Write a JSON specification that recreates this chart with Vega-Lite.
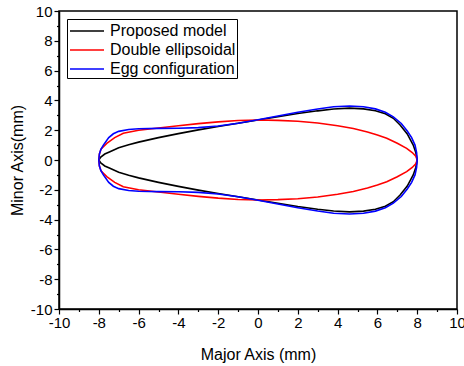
{
 "$schema": "https://vega.github.io/schema/vega-lite/v6.json",
 "width": 398, "height": 298,
 "autosize": {"type": "none"},
 "padding": {"left": 59, "top": 11, "right": 7, "bottom": 57},
 "background": "white",
 "config": {
   "view": {"stroke": "black", "strokeWidth": 1.5},
   "font": "Liberation Sans",
   "axis": {"domainColor": "black", "domainWidth": 1.5, "tickColor": "black", "tickWidth": 1.2, "labelColor": "black", "labelFontSize": 15, "titleColor": "black", "titleFontSize": 16, "titleFontWeight": "normal", "grid": false, "labelFlush": false, "labelOverlap": false}
 },
 "data": {"values": [
  {"s":"Proposed model","h":"u","x":-8,"y":0},{"s":"Proposed model","h":"u","x":-7.9,"y":0.2},{"s":"Proposed model","h":"u","x":-7.7,"y":0.4},{"s":"Proposed model","h":"u","x":-7.44,"y":0.56},{"s":"Proposed model","h":"u","x":-7,"y":0.82},{"s":"Proposed model","h":"u","x":-6.5,"y":1.02},{"s":"Proposed model","h":"u","x":-6,"y":1.2},{"s":"Proposed model","h":"u","x":-5,"y":1.5},{"s":"Proposed model","h":"u","x":-4,"y":1.77},{"s":"Proposed model","h":"u","x":-3,"y":2.02},{"s":"Proposed model","h":"u","x":-2,"y":2.25},{"s":"Proposed model","h":"u","x":-1,"y":2.47},{"s":"Proposed model","h":"u","x":0,"y":2.68},{"s":"Proposed model","h":"u","x":1,"y":2.9},{"s":"Proposed model","h":"u","x":2,"y":3.12},{"s":"Proposed model","h":"u","x":3,"y":3.3},{"s":"Proposed model","h":"u","x":3.8,"y":3.42},{"s":"Proposed model","h":"u","x":4.6,"y":3.48},{"s":"Proposed model","h":"u","x":5.3,"y":3.43},{"s":"Proposed model","h":"u","x":5.9,"y":3.3},{"s":"Proposed model","h":"u","x":6.4,"y":3.1},{"s":"Proposed model","h":"u","x":6.8,"y":2.8},{"s":"Proposed model","h":"u","x":7.14,"y":2.35},{"s":"Proposed model","h":"u","x":7.5,"y":1.75},{"s":"Proposed model","h":"u","x":7.8,"y":1.0},{"s":"Proposed model","h":"u","x":7.93,"y":0.5},{"s":"Proposed model","h":"u","x":8,"y":0},
  {"s":"Proposed model","h":"l","x":-8,"y":0},{"s":"Proposed model","h":"l","x":-7.9,"y":-0.2},{"s":"Proposed model","h":"l","x":-7.7,"y":-0.4},{"s":"Proposed model","h":"l","x":-7.44,"y":-0.56},{"s":"Proposed model","h":"l","x":-7,"y":-0.82},{"s":"Proposed model","h":"l","x":-6.5,"y":-1.02},{"s":"Proposed model","h":"l","x":-6,"y":-1.2},{"s":"Proposed model","h":"l","x":-5,"y":-1.5},{"s":"Proposed model","h":"l","x":-4,"y":-1.77},{"s":"Proposed model","h":"l","x":-3,"y":-2.02},{"s":"Proposed model","h":"l","x":-2,"y":-2.25},{"s":"Proposed model","h":"l","x":-1,"y":-2.47},{"s":"Proposed model","h":"l","x":0,"y":-2.68},{"s":"Proposed model","h":"l","x":1,"y":-2.9},{"s":"Proposed model","h":"l","x":2,"y":-3.12},{"s":"Proposed model","h":"l","x":3,"y":-3.3},{"s":"Proposed model","h":"l","x":3.8,"y":-3.42},{"s":"Proposed model","h":"l","x":4.6,"y":-3.48},{"s":"Proposed model","h":"l","x":5.3,"y":-3.43},{"s":"Proposed model","h":"l","x":5.9,"y":-3.3},{"s":"Proposed model","h":"l","x":6.4,"y":-3.1},{"s":"Proposed model","h":"l","x":6.8,"y":-2.8},{"s":"Proposed model","h":"l","x":7.14,"y":-2.35},{"s":"Proposed model","h":"l","x":7.5,"y":-1.75},{"s":"Proposed model","h":"l","x":7.8,"y":-1.0},{"s":"Proposed model","h":"l","x":7.93,"y":-0.5},{"s":"Proposed model","h":"l","x":8,"y":0},
  {"s":"Double ellipsoidal","h":"u","x":-8,"y":0},{"s":"Double ellipsoidal","h":"u","x":-7.97,"y":0.4},{"s":"Double ellipsoidal","h":"u","x":-7.88,"y":0.75},{"s":"Double ellipsoidal","h":"u","x":-7.6,"y":1.12},{"s":"Double ellipsoidal","h":"u","x":-7.2,"y":1.5},{"s":"Double ellipsoidal","h":"u","x":-6.77,"y":1.8},{"s":"Double ellipsoidal","h":"u","x":-6,"y":2.0},{"s":"Double ellipsoidal","h":"u","x":-5,"y":2.15},{"s":"Double ellipsoidal","h":"u","x":-4,"y":2.3},{"s":"Double ellipsoidal","h":"u","x":-3,"y":2.44},{"s":"Double ellipsoidal","h":"u","x":-2,"y":2.56},{"s":"Double ellipsoidal","h":"u","x":-1,"y":2.65},{"s":"Double ellipsoidal","h":"u","x":0,"y":2.68},{"s":"Double ellipsoidal","h":"u","x":1,"y":2.66},{"s":"Double ellipsoidal","h":"u","x":2,"y":2.6},{"s":"Double ellipsoidal","h":"u","x":3,"y":2.48},{"s":"Double ellipsoidal","h":"u","x":4,"y":2.3},{"s":"Double ellipsoidal","h":"u","x":4.79,"y":2.12},{"s":"Double ellipsoidal","h":"u","x":5.5,"y":1.88},{"s":"Double ellipsoidal","h":"u","x":6,"y":1.68},{"s":"Double ellipsoidal","h":"u","x":6.47,"y":1.46},{"s":"Double ellipsoidal","h":"u","x":7,"y":1.12},{"s":"Double ellipsoidal","h":"u","x":7.47,"y":0.78},{"s":"Double ellipsoidal","h":"u","x":7.75,"y":0.5},{"s":"Double ellipsoidal","h":"u","x":7.93,"y":0.25},{"s":"Double ellipsoidal","h":"u","x":8,"y":0},
  {"s":"Double ellipsoidal","h":"l","x":-8,"y":0},{"s":"Double ellipsoidal","h":"l","x":-7.97,"y":-0.4},{"s":"Double ellipsoidal","h":"l","x":-7.88,"y":-0.75},{"s":"Double ellipsoidal","h":"l","x":-7.6,"y":-1.12},{"s":"Double ellipsoidal","h":"l","x":-7.2,"y":-1.5},{"s":"Double ellipsoidal","h":"l","x":-6.77,"y":-1.8},{"s":"Double ellipsoidal","h":"l","x":-6,"y":-2.0},{"s":"Double ellipsoidal","h":"l","x":-5,"y":-2.15},{"s":"Double ellipsoidal","h":"l","x":-4,"y":-2.3},{"s":"Double ellipsoidal","h":"l","x":-3,"y":-2.44},{"s":"Double ellipsoidal","h":"l","x":-2,"y":-2.56},{"s":"Double ellipsoidal","h":"l","x":-1,"y":-2.65},{"s":"Double ellipsoidal","h":"l","x":0,"y":-2.68},{"s":"Double ellipsoidal","h":"l","x":1,"y":-2.66},{"s":"Double ellipsoidal","h":"l","x":2,"y":-2.6},{"s":"Double ellipsoidal","h":"l","x":3,"y":-2.48},{"s":"Double ellipsoidal","h":"l","x":4,"y":-2.3},{"s":"Double ellipsoidal","h":"l","x":4.79,"y":-2.12},{"s":"Double ellipsoidal","h":"l","x":5.5,"y":-1.88},{"s":"Double ellipsoidal","h":"l","x":6,"y":-1.68},{"s":"Double ellipsoidal","h":"l","x":6.47,"y":-1.46},{"s":"Double ellipsoidal","h":"l","x":7,"y":-1.12},{"s":"Double ellipsoidal","h":"l","x":7.47,"y":-0.78},{"s":"Double ellipsoidal","h":"l","x":7.75,"y":-0.5},{"s":"Double ellipsoidal","h":"l","x":7.93,"y":-0.25},{"s":"Double ellipsoidal","h":"l","x":8,"y":0},
  {"s":"Egg configuration","h":"u","x":-8,"y":0},{"s":"Egg configuration","h":"u","x":-7.97,"y":0.4},{"s":"Egg configuration","h":"u","x":-7.9,"y":0.7},{"s":"Egg configuration","h":"u","x":-7.77,"y":1.0},{"s":"Egg configuration","h":"u","x":-7.5,"y":1.5},{"s":"Egg configuration","h":"u","x":-7.27,"y":1.76},{"s":"Egg configuration","h":"u","x":-7,"y":1.92},{"s":"Egg configuration","h":"u","x":-6.5,"y":2.05},{"s":"Egg configuration","h":"u","x":-6,"y":2.1},{"s":"Egg configuration","h":"u","x":-5,"y":2.12},{"s":"Egg configuration","h":"u","x":-4,"y":2.13},{"s":"Egg configuration","h":"u","x":-3,"y":2.17},{"s":"Egg configuration","h":"u","x":-2,"y":2.28},{"s":"Egg configuration","h":"u","x":-1,"y":2.47},{"s":"Egg configuration","h":"u","x":0,"y":2.7},{"s":"Egg configuration","h":"u","x":1,"y":2.95},{"s":"Egg configuration","h":"u","x":2,"y":3.2},{"s":"Egg configuration","h":"u","x":3,"y":3.42},{"s":"Egg configuration","h":"u","x":3.8,"y":3.57},{"s":"Egg configuration","h":"u","x":4.6,"y":3.62},{"s":"Egg configuration","h":"u","x":5.3,"y":3.57},{"s":"Egg configuration","h":"u","x":5.9,"y":3.43},{"s":"Egg configuration","h":"u","x":6.4,"y":3.2},{"s":"Egg configuration","h":"u","x":6.8,"y":2.9},{"s":"Egg configuration","h":"u","x":7.2,"y":2.45},{"s":"Egg configuration","h":"u","x":7.5,"y":1.95},{"s":"Egg configuration","h":"u","x":7.72,"y":1.5},{"s":"Egg configuration","h":"u","x":7.89,"y":1.0},{"s":"Egg configuration","h":"u","x":7.97,"y":0.5},{"s":"Egg configuration","h":"u","x":8,"y":0},
  {"s":"Egg configuration","h":"l","x":-8,"y":0},{"s":"Egg configuration","h":"l","x":-7.97,"y":-0.4},{"s":"Egg configuration","h":"l","x":-7.9,"y":-0.7},{"s":"Egg configuration","h":"l","x":-7.77,"y":-1.0},{"s":"Egg configuration","h":"l","x":-7.5,"y":-1.5},{"s":"Egg configuration","h":"l","x":-7.27,"y":-1.76},{"s":"Egg configuration","h":"l","x":-7,"y":-1.92},{"s":"Egg configuration","h":"l","x":-6.5,"y":-2.05},{"s":"Egg configuration","h":"l","x":-6,"y":-2.1},{"s":"Egg configuration","h":"l","x":-5,"y":-2.12},{"s":"Egg configuration","h":"l","x":-4,"y":-2.13},{"s":"Egg configuration","h":"l","x":-3,"y":-2.17},{"s":"Egg configuration","h":"l","x":-2,"y":-2.28},{"s":"Egg configuration","h":"l","x":-1,"y":-2.47},{"s":"Egg configuration","h":"l","x":0,"y":-2.7},{"s":"Egg configuration","h":"l","x":1,"y":-2.95},{"s":"Egg configuration","h":"l","x":2,"y":-3.2},{"s":"Egg configuration","h":"l","x":3,"y":-3.42},{"s":"Egg configuration","h":"l","x":3.8,"y":-3.57},{"s":"Egg configuration","h":"l","x":4.6,"y":-3.62},{"s":"Egg configuration","h":"l","x":5.3,"y":-3.57},{"s":"Egg configuration","h":"l","x":5.9,"y":-3.43},{"s":"Egg configuration","h":"l","x":6.4,"y":-3.2},{"s":"Egg configuration","h":"l","x":6.8,"y":-2.9},{"s":"Egg configuration","h":"l","x":7.2,"y":-2.45},{"s":"Egg configuration","h":"l","x":7.5,"y":-1.95},{"s":"Egg configuration","h":"l","x":7.72,"y":-1.5},{"s":"Egg configuration","h":"l","x":7.89,"y":-1.0},{"s":"Egg configuration","h":"l","x":7.97,"y":-0.5},{"s":"Egg configuration","h":"l","x":8,"y":0}
 ]},
 "mark": {"type": "line", "strokeWidth": 1.6},
 "encoding": {
   "x": {"field": "x", "type": "quantitative", "scale": {"domain": [-10, 10], "nice": false, "zero": false},
     "axis": {"title": "Major Axis (mm)", "values": [-10,-9,-8,-7,-6,-5,-4,-3,-2,-1,0,1,2,3,4,5,6,7,8,9,10],
       "tickSize": {"condition": {"test": "datum.value % 2 === 0", "value": 5}, "value": 2.5},
       "labelExpr": "datum.value % 2 === 0 ? toString(datum.value) : ''", "labelPadding": 1,
       "titleX": 199, "titleY": 50, "titleBaseline": "alphabetic"}},
   "y": {"field": "y", "type": "quantitative", "scale": {"domain": [-10, 10], "nice": false, "zero": false},
     "axis": {"title": "Minor Axis(mm)", "values": [-10,-9,-8,-7,-6,-5,-4,-3,-2,-1,0,1,2,3,4,5,6,7,8,9,10],
       "tickSize": {"condition": {"test": "datum.value % 2 === 0", "value": 5}, "value": 2.5},
       "labelExpr": "datum.value % 2 === 0 ? toString(datum.value) : ''", "labelPadding": 2,
       "titleX": -37, "titleY": 149, "titleAngle": 270, "titleBaseline": "alphabetic"}},
   "color": {"field": "s", "type": "nominal",
     "scale": {"domain": ["Proposed model", "Double ellipsoidal", "Egg configuration"], "range": ["#000000", "#ff0000", "#0000ff"]},
     "legend": {"title": null, "orient": "top-left", "offset": 8, "symbolType": "M-0.9,0L2.5,0", "symbolSize": 400, "symbolStrokeWidth": 1.6,
       "labelFontSize": 16, "labelColor": "black", "strokeColor": "black", "fillColor": "white", "padding": 1, "rowPadding": 0, "labelOffset": 20}},
   "detail": {"field": "h"}
 }
}
